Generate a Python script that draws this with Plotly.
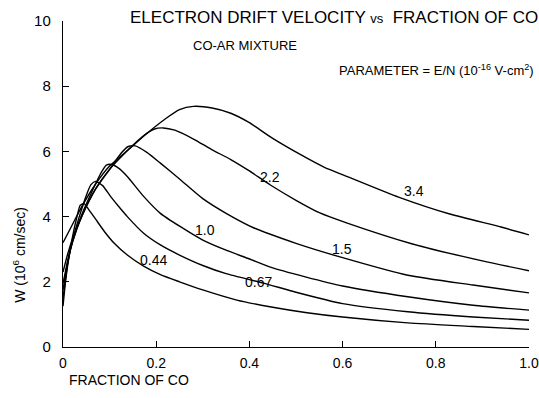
import plotly.graph_objects as go

# E/N parameter values (10^-16 V-cm^2)
params = ["0.44", "0.67", "1.0", "1.5", "2.2", "3.4"]

# Fraction of CO (x) and drift velocity W (10^6 cm/sec) for each curve
x_044 = [0, 0.005, 0.01, 0.02, 0.03, 0.037, 0.045, 0.055, 0.07, 0.09, 0.11, 0.138, 0.173, 0.209, 0.25, 0.3, 0.373, 0.45, 0.52, 0.6, 0.74, 0.88, 1.0]
y_044 = [1.25, 1.95, 2.5, 3.35, 4.0, 4.35, 4.4, 4.22, 3.92, 3.52, 3.18, 2.82, 2.48, 2.22, 2.0, 1.75, 1.44, 1.22, 1.06, 0.92, 0.74, 0.63, 0.54]

x_067 = [0, 0.005, 0.01, 0.02, 0.035, 0.05, 0.06, 0.07, 0.085, 0.102, 0.12, 0.138, 0.173, 0.209, 0.25, 0.3, 0.35, 0.43, 0.5, 0.6, 0.74, 0.88, 1.0]
y_067 = [1.5, 2.05, 2.55, 3.25, 4.0, 4.65, 4.98, 5.08, 4.95, 4.62, 4.3, 4.0, 3.49, 3.13, 2.82, 2.5, 2.25, 1.96, 1.68, 1.33, 1.08, 0.92, 0.82]

x_10 = [0, 0.005, 0.01, 0.02, 0.04, 0.06, 0.08, 0.093, 0.105, 0.12, 0.138, 0.173, 0.209, 0.252, 0.3, 0.35, 0.4, 0.445, 0.52, 0.6, 0.74, 0.88, 1.0]
y_10 = [1.75, 2.2, 2.6, 3.2, 4.05, 4.7, 5.3, 5.58, 5.6, 5.48, 5.23, 4.62, 4.1, 3.69, 3.28, 2.97, 2.7, 2.45, 2.15, 1.87, 1.54, 1.28, 1.13]

x_15 = [0, 0.005, 0.01, 0.02, 0.04, 0.07, 0.1, 0.125, 0.14, 0.155, 0.18, 0.209, 0.252, 0.3, 0.35, 0.41, 0.5, 0.6, 0.74, 0.88, 1.0]
y_15 = [1.95, 2.3, 2.65, 3.2, 4.0, 4.85, 5.45, 5.95, 6.15, 6.17, 5.97, 5.64, 5.13, 4.55, 4.1, 3.65, 3.18, 2.74, 2.2, 1.9, 1.66]

x_22 = [0, 0.01, 0.02, 0.04, 0.07, 0.1, 0.14, 0.17, 0.195, 0.215, 0.24, 0.28, 0.32, 0.36, 0.4, 0.445, 0.5, 0.55, 0.61, 0.75, 0.9, 1.0]
y_22 = [2.3, 2.85, 3.3, 4.0, 4.85, 5.45, 6.05, 6.45, 6.68, 6.72, 6.65, 6.38, 6.05, 5.75, 5.4, 4.97, 4.5, 4.12, 3.8, 3.16, 2.64, 2.34]

x_34 = [0, 0.02, 0.04, 0.07, 0.1, 0.14, 0.18, 0.22, 0.25, 0.28, 0.32, 0.36, 0.4, 0.45, 0.51, 0.56, 0.617, 0.72, 0.83, 0.94, 1.0]
y_34 = [3.2, 3.75, 4.3, 5.0, 5.55, 6.05, 6.55, 7.0, 7.28, 7.38, 7.33, 7.17, 6.88, 6.4, 5.9, 5.52, 5.19, 4.6, 4.08, 3.68, 3.44]

curves = [(x_044, y_044), (x_067, y_067), (x_10, y_10), (x_15, y_15), (x_22, y_22), (x_34, y_34)]

# Curve label positions (data coords)
label_x = [0.195, 0.42, 0.305, 0.598, 0.445, 0.753]
label_y = [2.67, 2.0, 3.58, 3.0, 5.2, 4.78]

x_ticks = [0, 0.2, 0.4, 0.6, 0.8, 1.0]
x_ticktext = ["0", "0.2", "0.4", "0.6", "0.8", "1.0"]
y_ticks = [0, 2, 4, 6, 8, 10]

FONT = "Liberation Sans"
W, H = 539, 398
margin_l, margin_r, margin_t, margin_b = 62.5, 9.5, 21, 51.3
pw = W - margin_l - margin_r
ph = H - margin_t - margin_b


def paper_x(xp):
    return (xp - margin_l) / pw


def paper_y(yp):
    return (H - margin_b - yp) / ph


fig = go.Figure()
for (xs, ys), p in zip(curves, params):
    fig.add_trace(go.Scatter(x=xs, y=ys, mode="lines", name=p,
                             line=dict(color="black", width=1.4, shape="spline", smoothing=0.6),
                             showlegend=False))

for lx, ly, t in zip(label_x, label_y, params):
    fig.add_annotation(x=lx, y=ly, text=t, showarrow=False, xref="x", yref="y",
                       font=dict(family=FONT, size=14, color="black"))

fig.add_annotation(x=paper_x(334), y=paper_y(18), xref="paper", yref="paper",
                   text='ELECTRON DRIFT VELOCITY <span style="font-size:13px">vs</span>  FRACTION OF CO',
                   showarrow=False, xanchor="center", yanchor="middle",
                   font=dict(family=FONT, size=17, color="black"))
fig.add_annotation(x=paper_x(191), y=paper_y(45), xref="paper", yref="paper",
                   text="CO-AR MIXTURE", showarrow=False, xanchor="left", yanchor="middle",
                   font=dict(family=FONT, size=13, color="black"))
fig.add_annotation(x=paper_x(537), y=paper_y(70), xref="paper", yref="paper",
                   text="PARAMETER = E/N (10<sup>-16</sup> V-cm<sup>2</sup>)", showarrow=False,
                   xanchor="right", yanchor="middle",
                   font=dict(family=FONT, size=13, color="black"))
fig.add_annotation(x=paper_x(67), y=paper_y(380), xref="paper", yref="paper",
                   text="FRACTION OF CO", showarrow=False, xanchor="left", yanchor="middle",
                   font=dict(family=FONT, size=14, color="black"))
fig.add_annotation(x=paper_x(19), y=paper_y(255), xref="paper", yref="paper",
                   text="W (10<sup>6</sup> cm/sec)", showarrow=False, textangle=-90,
                   xanchor="center", yanchor="middle",
                   font=dict(family=FONT, size=14, color="black"))

fig.update_layout(
    width=W, height=H,
    margin=dict(l=margin_l, r=margin_r, t=margin_t, b=margin_b, autoexpand=False),
    paper_bgcolor="white", plot_bgcolor="white",
    xaxis=dict(range=[0, 1.0], tickvals=x_ticks, ticktext=x_ticktext, automargin=False,
               showgrid=False, zeroline=False, showline=True, linecolor="black", linewidth=1.4,
               ticks="inside", ticklen=6, tickcolor="black", tickwidth=1.4,
               ticklabelstandoff=3,
               tickfont=dict(family=FONT, size=14, color="black")),
    yaxis=dict(range=[0, 10], tickvals=y_ticks, automargin=False,
               showgrid=False, zeroline=False, showline=True, linecolor="black", linewidth=1.4,
               ticks="inside", ticklen=6, tickcolor="black", tickwidth=1.4,
               ticklabelstandoff=8,
               tickfont=dict(family=FONT, size=15, color="black")),
)

fig.write_html("out.html")
